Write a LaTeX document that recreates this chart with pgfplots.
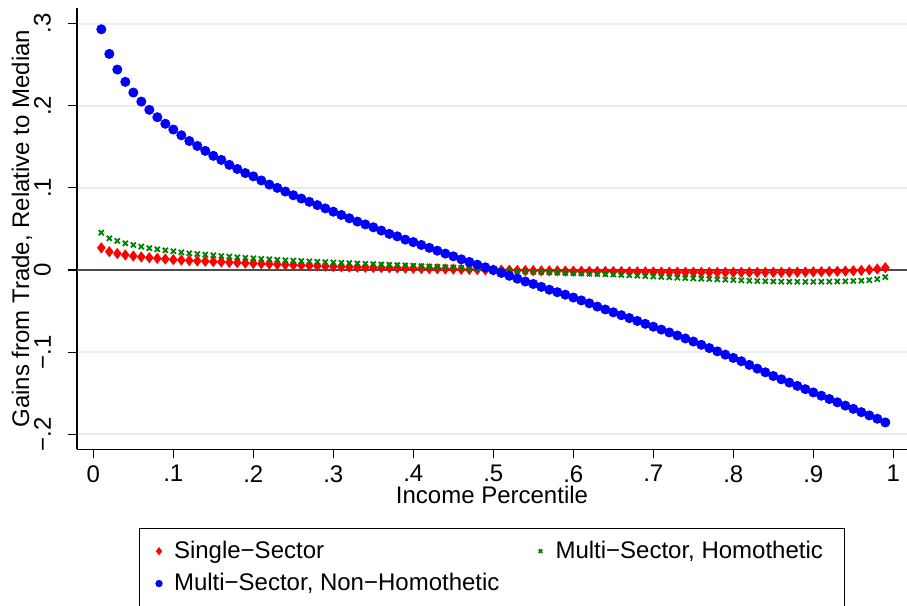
\documentclass[border=0pt]{standalone}
\usepackage{fontspec}
\setmainfont{Liberation Sans}
\usepackage{pgfplots}
\pgfplotsset{compat=1.18}
\usepackage{pgfplotstable}

\definecolor{gridblue}{RGB}{230,238,242}
\definecolor{stgreen}{RGB}{0,128,0}

% Gains from trade relative to the median, by income percentile
\pgfplotstableread{
pct   single   homot    nonhomot
0.01  0.0270   0.0455   0.2930
0.02  0.0223   0.0386   0.2630
0.03  0.0200   0.0354   0.2440
0.04  0.0183   0.0325   0.2290
0.05  0.0170   0.0305   0.2160
0.06  0.0159   0.0285   0.2050
0.07  0.0150   0.0266   0.1950
0.08  0.0142   0.0252   0.1860
0.09  0.0134   0.0240   0.1780
0.10  0.0126   0.0228   0.1710
0.11  0.0121   0.0215   0.1640
0.12  0.0115   0.0203   0.1570
0.13  0.0110   0.0195   0.1510
0.14  0.0106   0.0187   0.1450
0.15  0.0102   0.0179   0.1390
0.16  0.0098   0.0171   0.1340
0.17  0.0093   0.0163   0.1280
0.18  0.0090   0.0155   0.1230
0.19  0.0085   0.0149   0.1180
0.20  0.0081   0.0143   0.1140
0.21  0.0077   0.0136   0.1090
0.22  0.0073   0.0130   0.1040
0.23  0.0069   0.0124   0.1000
0.24  0.0065   0.0119   0.0955
0.25  0.0061   0.0114   0.0910
0.26  0.0058   0.0110   0.0870
0.27  0.0054   0.0105   0.0830
0.28  0.0050   0.0100   0.0790
0.29  0.0047   0.0096   0.0750
0.30  0.0043   0.0092   0.0710
0.31  0.0040   0.0088   0.0670
0.32  0.0037   0.0084   0.0630
0.33  0.0035   0.0080   0.0590
0.34  0.0033   0.0076   0.0555
0.35  0.0031   0.0072   0.0520
0.36  0.0029   0.0068   0.0480
0.37  0.0027   0.0064   0.0440
0.38  0.0025   0.0060   0.0410
0.39  0.0023   0.0056   0.0370
0.40  0.0021   0.0052   0.0340
0.41  0.0019   0.0047   0.0305
0.42  0.0017   0.0043   0.0270
0.43  0.0015   0.0039   0.0235
0.44  0.0013   0.0034   0.0200
0.45  0.0011   0.0030   0.0167
0.46  0.0009   0.0025   0.0130
0.47  0.0007   0.0019   0.0098
0.48  0.0005   0.0013   0.0065
0.49  0.0002   0.0007   0.0033
0.50  0.0000   0.0000   0.0000
0.51 -0.0001  -0.0004  -0.0035
0.52 -0.0003  -0.0008  -0.0070
0.53 -0.0004  -0.0012  -0.0105
0.54 -0.0006  -0.0016  -0.0140
0.55 -0.0007  -0.0020  -0.0170
0.56 -0.0009  -0.0024  -0.0205
0.57 -0.0010  -0.0027  -0.0240
0.58 -0.0011  -0.0031  -0.0270
0.59 -0.0013  -0.0035  -0.0300
0.60 -0.0014  -0.0038  -0.0335
0.61 -0.0015  -0.0041  -0.0370
0.62 -0.0016  -0.0045  -0.0405
0.63 -0.0017  -0.0048  -0.0445
0.64 -0.0018  -0.0051  -0.0480
0.65 -0.0019  -0.0054  -0.0515
0.66 -0.0020  -0.0059  -0.0550
0.67 -0.0021  -0.0064  -0.0585
0.68 -0.0022  -0.0069  -0.0620
0.69 -0.0023  -0.0074  -0.0655
0.70 -0.0024  -0.0079  -0.0690
0.71 -0.0025  -0.0084  -0.0725
0.72 -0.0025  -0.0089  -0.0760
0.73 -0.0026  -0.0094  -0.0797
0.74 -0.0027  -0.0098  -0.0833
0.75 -0.0027  -0.0102  -0.0870
0.76 -0.0028  -0.0106  -0.0910
0.77 -0.0028  -0.0110  -0.0950
0.78 -0.0029  -0.0114  -0.0990
0.79 -0.0029  -0.0118  -0.1030
0.80 -0.0029  -0.0122  -0.1070
0.81 -0.0029  -0.0126  -0.1110
0.82 -0.0029  -0.0130  -0.1155
0.83 -0.0029  -0.0134  -0.1200
0.84 -0.0029  -0.0137  -0.1245
0.85 -0.0028  -0.0139  -0.1290
0.86 -0.0028  -0.0141  -0.1330
0.87 -0.0027  -0.0142  -0.1370
0.88 -0.0026  -0.0143  -0.1410
0.89 -0.0025  -0.0143  -0.1450
0.90 -0.0023  -0.0143  -0.1490
0.91 -0.0021  -0.0142  -0.1530
0.92 -0.0019  -0.0141  -0.1570
0.93 -0.0016  -0.0139  -0.1610
0.94 -0.0013  -0.0137  -0.1650
0.95 -0.0009  -0.0134  -0.1690
0.96 -0.0004  -0.0130  -0.1730
0.97  0.0003  -0.0123  -0.1770
0.98  0.0012  -0.0111  -0.1810
0.99  0.0028  -0.0086  -0.1855
}\gains

% legend symbol: a single mark with fixed room to its left and right
\pgfplotsset{
  narrowlegend/.style={legend image code/.code={%
    \path[draw=none, fill=none] (-4pt,0pt) -- (2.5pt,0pt);
    \draw[##1] plot coordinates {(0pt,0pt)};}},
}

\begin{document}
\begin{tikzpicture}[font=\fontsize{12}{14.4}\selectfont]
\begin{axis}[
  scale only axis,
  width=415pt, height=220.65pt,
  xmin=-0.0204, xmax=1.0171,
  ymin=-0.2182, ymax=0.3189,
  axis lines=left,
  axis line style={-, line width=0.6pt, black},
  tick align=outside,
  major tick length=4.5pt,
  tick style={black, line width=0.6pt},
  xtick={0,0.1,0.2,0.3,0.4,0.5,0.6,0.7,0.8,0.9,1},
  xticklabels={0,.1,.2,.3,.4,.5,.6,.7,.8,.9,1},
  ytick={-0.2,-0.1,0,0.1,0.2,0.3},
  yticklabels={−.2,−.1,0,.1,.2,.3},
  yticklabel style={rotate=90, anchor=south},
  yticklabel shift=5pt,
  ymajorgrids,
  grid style={gridblue, line width=1pt},
  extra y ticks={0},
  extra y tick labels={},
  extra y tick style={grid style={black!70, line width=0.7pt}, major tick length=0pt},
  xlabel={Income Percentile},
  ylabel={Gains from Trade, Relative to Median},
  every axis x label/.style={at={(axis description cs:0.5,-0.1224)}, anchor=base},
  every axis y label/.style={at={(axis description cs:-0.0578,0.5)}, rotate=90, anchor=base},
  legend columns=2,
  legend cell align=left,
  legend style={at={(axis description cs:0.5,-0.1785)}, anchor=north,
    draw=black, line width=0.5pt,
    inner xsep=6pt, inner ysep=4.2pt,
    nodes={inner xsep=5pt, inner ysep=2pt},
    row sep=2pt,
    /tikz/column 2/.style={column sep=11.5pt}},
  legend image post style={every mark/.append style={scale=0.7}},
]
\coordinate (sw) at (rel axis cs:0,0);
\coordinate (ne) at (rel axis cs:1,1);

\addplot[only marks, narrowlegend, mark=diamond*, mark size=2.5pt,
  draw=red, fill=red, mark options={line width=0.4pt}]
  table[x=pct, y=single] {\gains};
\addlegendentry{Single−Sector}

\addplot[only marks, narrowlegend, mark=x, mark size=1.8pt,
  draw=stgreen, mark options={line width=0.9pt}]
  table[x=pct, y=homot] {\gains};
\addlegendentry{Multi−Sector, Homothetic}

\addplot[only marks, narrowlegend, mark=*, mark size=2.3pt,
  draw=blue, fill=blue, mark options={line width=0.4pt}]
  table[x=pct, y=nonhomot] {\gains};
\addlegendentry{Multi−Sector, Non−Homothetic}
\end{axis}
\pgfresetboundingbox
\path ([shift={(-38.5pt,-78pt)}]sw) rectangle ([shift={(0pt,4pt)}]ne);
\end{tikzpicture}
\end{document}
